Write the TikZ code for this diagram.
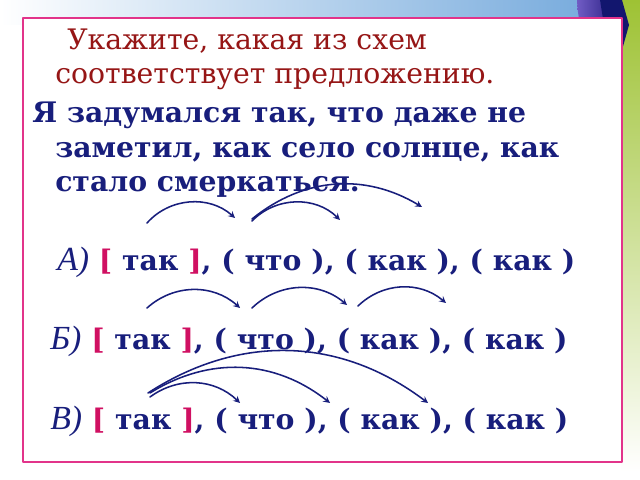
\documentclass[tikz,border=0pt]{standalone}
\usepackage{fontspec}
\setmainfont{DejaVu Serif}
\newfontfamily\letterfont{Liberation Serif}
\definecolor{navy}{RGB}{24,30,124}
\definecolor{darkred}{RGB}{150,22,22}
\definecolor{frameline}{RGB}{226,52,138}
\definecolor{brk}{RGB}{208,16,98}
\definecolor{skyblue}{RGB}{108,164,218}
\definecolor{leaf}{RGB}{158,194,52}
\definecolor{violetA}{RGB}{112,92,196}
\definecolor{violetB}{RGB}{52,40,140}
\definecolor{deepnavy}{RGB}{18,22,110}
\newcommand\schemeline[1]{{\letterfont\itshape\mdseries\fontsize{24}{26}\selectfont #1)} {\color{brk}[} так {\color{brk}]}, ( что ), ( как ), ( как )}
\begin{document}
\begin{tikzpicture}[x=0.025cm, y=0.025cm, line join=round, line cap=round, >=stealth,
  txt/.style={anchor=base west, inner sep=0pt, font=\fontsize{20.1}{24}\selectfont},
  task/.style={txt, text=darkred},
  sentence/.style={txt, text=navy, font=\fontsize{20.1}{24}\selectfont\bfseries},
  link/.style={->, draw=navy, line width=1.1pt}]
 \useasboundingbox (0,0) rectangle (640,480);
 \shade[left color=white, right color=skyblue] (0,455) rectangle (640,480);
 \shade[top color=leaf, bottom color=white] (621,8) rectangle (640,480);
 \shade[left color=violetA, right color=violetB] (577,480) to[bend right=10] (586,440) -- (610,440) -- (600,480) -- cycle;
 \fill[deepnavy] (600,480) -- (622,480) -- (629,455) -- (622,430) -- (608,430) -- cycle;
 \draw[frameline, line width=1.1pt, fill=white] (23,18) rectangle (622,462);
 \node[task] (task1) at (67,430) {Укажите, какая из схем};
 \node[task] (task2) at (55,396) {соответствует предложению.};
 \node[sentence] (sent1) at (32,357) {Я задумался так, что даже не};
 \node[sentence] (sent2) at (55,322) {заметил, как село солнце, как};
 \node[sentence] (sent3) at (55,288) {стало смеркаться.};
 \node[sentence] (schemeA) at (57,209) {\schemeline{А}};
 \node[sentence] (schemeB) at (50,130) {\schemeline{Б}};
 \node[sentence] (schemeC) at (50,50) {\schemeline{В}};
 \coordinate (a1s) at (147,257); \coordinate (a1e) at (235,262);
 \coordinate (a2s) at (252,259); \coordinate (a2e) at (340,260);
 \coordinate (a3s) at (252,261); \coordinate (a3e) at (422,273);
 \coordinate (b1s) at (147,172); \coordinate (b1e) at (240,172);
 \coordinate (b2s) at (252,172); \coordinate (b2e) at (347,175);
 \coordinate (b3s) at (358,174); \coordinate (b3e) at (446,177);
 \coordinate (c1s) at (150,83); \coordinate (c1e) at (240,77);
 \coordinate (c2s) at (150,87); \coordinate (c2e) at (330,77);
 \coordinate (c3s) at (148,87); \coordinate (c3e) at (428,77);
 \draw[link] (a1s) to[bend left=45] (a1e);
 \draw[link] (a2s) to[bend left=45] (a2e);
 \draw[link] (a3s) to[bend left=35] (a3e);
 \foreach \n in {b1,b2,b3}
 \draw[link] (\n s) to[bend left=42] (\n e);
 \draw[link] (c1s) to[bend left=40] (c1e);
 \draw[link] (c2s) to[bend left=35] (c2e);
 \draw[link] (c3s) to[bend left=35] (c3e);
\end{tikzpicture}
\end{document}
